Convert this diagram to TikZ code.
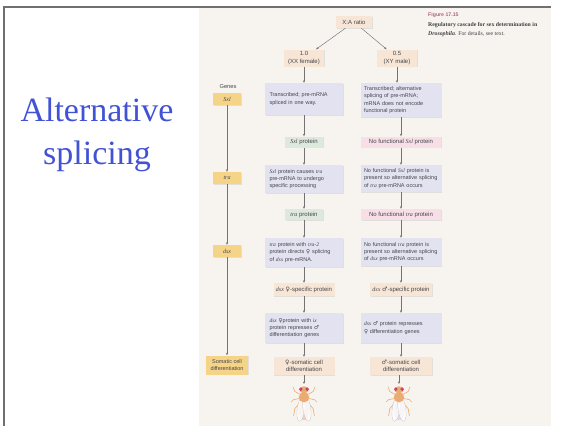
\documentclass[tikz,border=0pt]{standalone}
\usepackage{fontspec}
\setmainfont{Liberation Serif}
\newfontfamily\figsans{Liberation Sans}
\newfontfamily\symbfont{DejaVu Sans}
\usetikzlibrary{arrows.meta,shadows}

\definecolor{titleblue}{RGB}{66,82,214}
\definecolor{pagetone}{RGB}{247,244,240}
\definecolor{framegray}{RGB}{112,112,112}
\definecolor{lavbox}{RGB}{226,226,241}
\definecolor{greenbox}{RGB}{222,233,221}
\definecolor{pinkbox}{RGB}{248,222,231}
\definecolor{peachbox}{RGB}{247,230,214}
\definecolor{genebox}{RGB}{246,212,135}
\definecolor{inktext}{RGB}{70,70,76}
\definecolor{arrowgray}{RGB}{115,115,115}
\definecolor{figred}{RGB}{178,98,130}
\definecolor{flybody}{RGB}{234,172,112}
\definecolor{flyeye}{RGB}{214,64,96}
\definecolor{flyabd}{RGB}{236,208,192}
\definecolor{flyabdm}{RGB}{228,218,230}

\newcommand\gname[1]{{\rmfamily\itshape #1}}
\newcommand\fsym{{\symbfont ♀}}
\newcommand\msym{{\symbfont ♂}}

\tikzset{
  cbox/.style={font=\figsans\fontsize{5.5}{7.3}\selectfont, text=inktext,
    inner sep=0pt,
    drop shadow={shadow xshift=.7pt, shadow yshift=-.7pt, opacity=.18}},
  leftstep/.style={cbox, fill=lavbox, minimum width=78pt, text width=69pt, align=left},
  rightstep/.style={cbox, fill=lavbox, minimum width=81pt, text width=74pt, align=left},
  tagbox/.style={cbox, minimum height=11pt, align=center,
    font=\figsans\fontsize{6}{7.4}\selectfont},
  genetag/.style={cbox, fill=genebox, minimum width=28pt, minimum height=12pt,
    font=\rmfamily\itshape\fontsize{6}{7}\selectfont},
  flow/.style={draw=arrowgray, line width=.45pt, -{Stealth[length=2.6pt,width=2.2pt]}},
  flyleg/.style={draw=flybody, line width=.6pt, line cap=round, line join=round},
  flywing/.style={fill=white, fill opacity=.75, draw=black!25, line width=.25pt},
  pics/drosophila/.style={code={
    % legs
    \draw[flyleg] (-2.5,-7) -- (-8,-10) -- (-9.5,-14);
    \draw[flyleg] (2.5,-7) -- (8,-10) -- (9.5,-14);
    \draw[flyleg] (-3,-4) -- (-9,-3) -- (-11,-1);
    \draw[flyleg] (3,-4) -- (9,-3) -- (11,-1);
    \draw[flyleg] (-3,-1) -- (-8,5) -- (-9,11);
    \draw[flyleg] (3,-1) -- (8,5) -- (9,11);
    % abdomen
    \fill[#1] (0,5) ellipse [x radius=5, y radius=10];
    % wings
    \filldraw[flywing, rotate around={-8:(-2.5,5)}] (-2.5,5) ellipse [x radius=3.4, y radius=11];
    \filldraw[flywing, rotate around={8:(2.5,5)}] (2.5,5) ellipse [x radius=3.4, y radius=11];
    % thorax and head
    \fill[flybody] (0,-5) ellipse [x radius=4.5, y radius=4.5];
    \fill[flybody] (0,-11.5) ellipse [x radius=4, y radius=3];
    \fill[flyeye] (-2.8,-12) circle [radius=1.7];
    \fill[flyeye] (2.8,-12) circle [radius=1.7];
  }}
}

\begin{document}
\begin{tikzpicture}[x=1pt, y=-1pt]
\useasboundingbox (0,0) rectangle (563,426);

% page and scanned figure area
\fill[white] (0,0) rectangle (563,426);
\fill[pagetone] (199,7) rectangle (551,426);
\draw[framegray, line width=1.6pt] (4,426) -- (4,7) -- (551,7);

% slide title
\node[anchor=base, text=titleblue, font=\fontsize{34}{40}\selectfont, inner sep=0pt] (title1) at (97,121) {Alternative};
\node[anchor=base, text=titleblue, font=\fontsize{34}{40}\selectfont, inner sep=0pt] (title2) at (97,164) {splicing};

% figure caption
\node[anchor=base west, inner sep=0pt, text=figred, font=\figsans\bfseries\fontsize{5.2}{6}\selectfont] (figno) at (428,16) {Figure 17.15};
\node[anchor=base west, inner sep=0pt, text=black!75, font=\bfseries\fontsize{5.8}{7}\selectfont] (figcap1) at (428,26) {Regulatory cascade for sex determination in};
\node[anchor=base west, inner sep=0pt, text=black!75, font=\fontsize{5.8}{7}\selectfont] (figcap2) at (428,35) {\textbf{\textit{Drosophila}}. For details, see text.};

% top of the cascade
\node[tagbox, fill=peachbox, minimum width=36pt, minimum height=12pt] (xa) at (354,22) {X:A ratio};
\node[tagbox, fill=peachbox, minimum width=40pt, minimum height=17pt] (fem) at (304,58) {1.0\\(XX female)};
\node[tagbox, fill=peachbox, minimum width=40pt, minimum height=17pt] (mal) at (397,58) {0.5\\(XY male)};

% gene column
\node[font=\figsans\fontsize{5.7}{6}\selectfont, text=inktext, inner sep=0pt] (genes) at (228,87) {Genes};
\node[genetag] (gsxl) at (227,99) {Sxl};
\node[genetag] (gtra) at (227,178) {tra};
\node[genetag] (gdsx) at (227,251) {dsx};
\node[genetag, minimum width=42pt, minimum height=19pt, align=center,
      font=\figsans\fontsize{5.5}{6.8}\selectfont] (gsom) at (227,365) {Somatic cell\\differentiation};

% female column
\node[leftstep, minimum height=32pt] (l1) at (304,99) {Transcribed; pre-mRNA\\spliced in one way.};
\node[tagbox, fill=greenbox, minimum width=38pt] (l2) at (304,142) {\gname{Sxl} protein};
\node[leftstep, minimum height=28pt] (l3) at (304,179) {\gname{Sxl} protein causes \gname{tra}\\pre-mRNA to undergo\\specific processing};
\node[tagbox, fill=greenbox, minimum width=38pt] (l4) at (304,214.5) {\gname{tra} protein};
\node[leftstep, minimum height=29pt] (l5) at (304,252.5) {\gname{tra} protein with \gname{tra-2}\\protein directs \fsym\ splicing\\of \gname{dsx} pre-mRNA.};
\node[tagbox, fill=peachbox, minimum width=61pt, minimum height=13pt] (l6) at (304,289.5) {\gname{dsx} \fsym-specific protein};
\node[leftstep, minimum height=30pt] (l7) at (304,328) {\gname{dsx} \fsym protein with \gname{ix}\\protein represses \msym\\differentiation genes};
\node[tagbox, fill=peachbox, minimum width=61pt, minimum height=18pt] (l8) at (304,366) {\fsym-somatic cell\\differentiation};
\pic[scale=1.15] (ffly) at (304,403) {drosophila=flyabd};
\coordinate (fflytop) at (304,384);

% male column
\node[rightstep, minimum height=34pt] (r1) at (401,100) {Transcribed; alternative\\splicing of pre-mRNA;\\mRNA does not encode\\functional protein};
\node[tagbox, fill=pinkbox, minimum width=80pt] (r2) at (401,142) {No functional \gname{Sxl} protein};
\node[rightstep, minimum height=27pt] (r3) at (401,178.5) {No functional \gname{Sxl} protein is\\present so alternative splicing\\of \gname{tra} pre-mRNA occurs};
\node[tagbox, fill=pinkbox, minimum width=80pt] (r4) at (401,214.5) {No functional \gname{tra} protein};
\node[rightstep, minimum height=28pt] (r5) at (401,252) {No functional \gname{tra} protein is\\present so alternative splicing\\of \gname{dsx} pre-mRNA occurs};
\node[tagbox, fill=peachbox, minimum width=62pt, minimum height=13pt] (r6) at (401,289.5) {\gname{dsx} \msym-specific protein};
\node[rightstep, minimum height=30pt] (r7) at (401,328) {\gname{dsx} \msym\ protein represses\\\fsym\ differentiation genes};
\node[tagbox, fill=peachbox, minimum width=62pt, minimum height=18pt] (r8) at (401,366) {\msym-somatic cell\\differentiation};
\pic[scale=1.15] (mfly) at (399,403) {drosophila=flyabdm};
\coordinate (mflytop) at (399,384);

% connectors
\draw[flow] (xa) -- (fem);
\draw[flow] (xa) -- (mal);
\draw[flow] (fem) -- (l1);
\draw[flow] (mal.south) -- (mal.south |- r1.north);
\draw[flow] (l1) -- (l2);
\draw[flow] (l2) -- (l3);
\draw[flow] (l3) -- (l4);
\draw[flow] (l4) -- (l5);
\draw[flow] (l5) -- (l6);
\draw[flow] (l6) -- (l7);
\draw[flow] (l7) -- (l8);
\draw[flow] (l8) -- (fflytop);
\draw[flow] (r1) -- (r2);
\draw[flow] (r2) -- (r3);
\draw[flow] (r3) -- (r4);
\draw[flow] (r4) -- (r5);
\draw[flow] (r5) -- (r6);
\draw[flow] (r6) -- (r7);
\draw[flow] (r7) -- (r8);
\draw[flow] (r8.south -| mflytop) -- (mflytop);
\draw[flow] (gsxl) -- (gtra);
\draw[flow] (gtra) -- (gdsx);
\draw[flow] (gdsx) -- (gsom);
\end{tikzpicture}
\end{document}
